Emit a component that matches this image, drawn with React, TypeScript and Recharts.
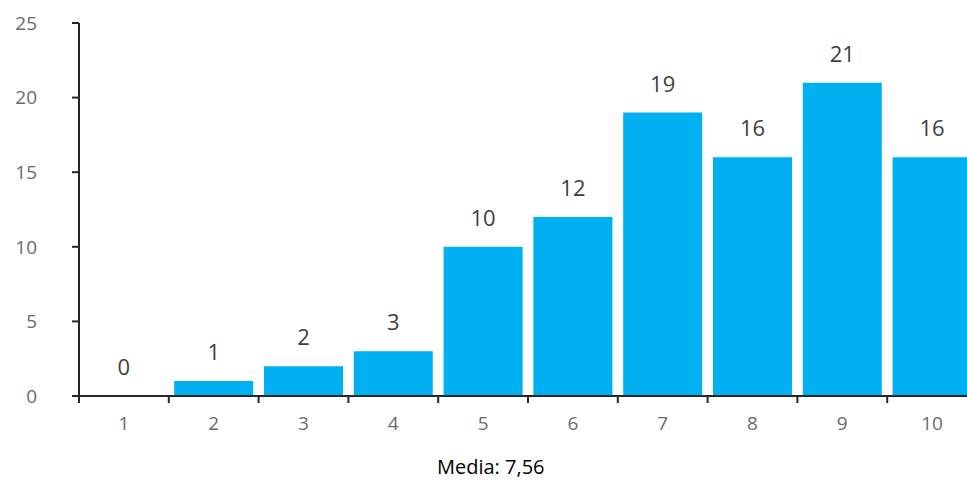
import React from 'react';
import { ComposedChart, Bar, Line, XAxis, YAxis, LabelList } from 'recharts';

const categories = ['1', '2', '3', '4', '5', '6', '7', '8', '9', '10'];
const counts = [0, 1, 2, 3, 10, 12, 19, 16, 21, 16];
const yTicks = [0, 5, 10, 15, 20, 25];
const footnote = 'Media: 7,56';

const CHART_W = 977;
const CHART_H = 483;
const Y_AXIS_W = 79;
const MARGIN = { top: 23, right: 0, left: 0, bottom: 27 };
const BAND = (CHART_W - Y_AXIS_W - MARGIN.left - MARGIN.right) / categories.length;
const FONT = '"Open Sans", "Noto Sans", sans-serif';
const AXIS_COLOR = '#262626';
const TICK_COLOR = '#6b6b6b';

const data = categories.map((c, i) => ({ name: c, value: counts[i] }));

const XTick = (props: any) => {
  const { x, y, payload, index } = props;
  const half = BAND / 2;
  return (
    <g>
      <line x1={x - half} x2={x - half} y1={y} y2={y + 7} stroke={AXIS_COLOR} strokeWidth={2} />
      {index === categories.length - 1 && (
        <line x1={x + half} x2={x + half} y1={y} y2={y + 7} stroke={AXIS_COLOR} strokeWidth={2} />
      )}
      <text x={x} y={y + 34} textAnchor="middle" fill={TICK_COLOR} fontSize={19} fontFamily={FONT}>
        {payload.value}
      </text>
    </g>
  );
};

export default function App() {
  return (
    <div style={{ position: 'absolute', left: 0, top: 0, width: 967, height: 483, overflow: 'hidden', background: '#fff' }}>
      <ComposedChart width={CHART_W} height={CHART_H} data={data} margin={MARGIN} barCategoryGap="6%">
        <XAxis
          dataKey="name"
          height={60}
          tickSize={0}
          tickMargin={0}
          tickLine={false}
          axisLine={{ stroke: AXIS_COLOR, strokeWidth: 2 }}
          tick={<XTick />}
          interval={0}
        />
        <YAxis
          width={Y_AXIS_W}
          domain={[0, 25]}
          ticks={yTicks}
          tickSize={7}
          tickMargin={35}
          axisLine={{ stroke: AXIS_COLOR, strokeWidth: 2 }}
          tickLine={{ stroke: AXIS_COLOR, strokeWidth: 2 }}
          tick={{ fill: TICK_COLOR, fontSize: 19, fontFamily: FONT }}
        />
        <Bar dataKey="value" fill="#00B0F0" isAnimationActive={false} />
        {/* invisible line carries the value labels so the zero bar gets one too */}
        <Line dataKey="value" stroke="none" dot={false} activeDot={false} isAnimationActive={false}>
          <LabelList dataKey="value" position="top" offset={21} fill="#404040" fontSize={22} fontFamily={FONT} />
        </Line>
      </ComposedChart>
      <div
        style={{
          position: 'absolute',
          left: 437,
          top: 453,
          fontFamily: FONT,
          fontSize: 20,
          color: '#000',
          whiteSpace: 'nowrap',
        }}
      >
        {footnote}
      </div>
    </div>
  );
}
